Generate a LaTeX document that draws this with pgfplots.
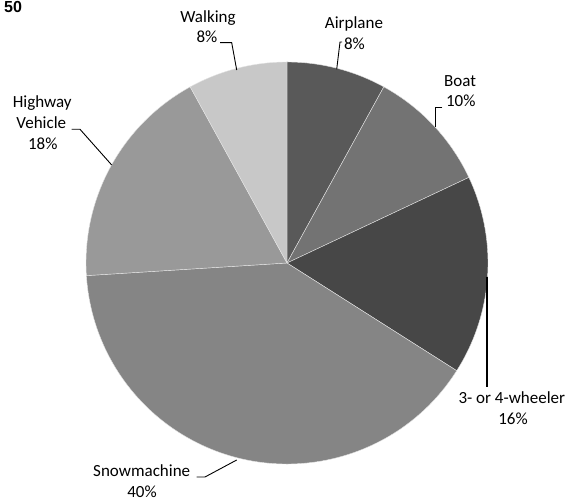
\documentclass[border=0pt]{standalone}
\usepackage{pgfplots}
\pgfplotsset{compat=1.18}
\usepackage{fontspec}
\setmainfont{Carlito}
\newfontfamily\headfont{Liberation Sans}

\definecolor{cAir}{HTML}{595959}
\definecolor{cBoat}{HTML}{737373}
\definecolor{cWheel}{HTML}{474747}
\definecolor{cSnow}{HTML}{858585}
\definecolor{cHwy}{HTML}{999999}
\definecolor{cWalk}{HTML}{C8C8C8}

\begin{document}
\begin{tikzpicture}
\begin{axis}[
    scale only axis,
    width=569pt, height=502pt,
    xmin=0, xmax=569, ymin=0, ymax=502,
    hide axis,
    clip=false,
]
% shares in percent, clockwise from 12 o'clock
\pgfplotsextra{
  \def\s{90}
  \foreach \p/\c in {8/cAir, 10/cBoat, 16/cWheel, 40/cSnow, 18/cHwy, 8/cWalk} {
    \pgfmathsetmacro{\e}{\s-3.6*\p}
    \fill[\c, draw=white!80!gray, line width=0.4pt]
      (axis cs:287,239) -- ++(\s:201pt)
      arc[start angle=\s, end angle=\e, radius=201pt] -- cycle;
    \xdef\s{\e}
  }
}

% labels
\tikzset{lbl/.style={anchor=base, inner sep=0pt, font=\fontsize{17}{20}\selectfont}}
\node[lbl] at (axis cs:208,479.3) {Walking};
\node[lbl] at (axis cs:207,459.3) {8\%};
\node[lbl] at (axis cs:354,473.5) {Airplane};
\node[lbl] at (axis cs:354.5,452.5) {8\%};
\node[lbl] at (axis cs:460,415.3) {Boat};
\node[lbl] at (axis cs:460.7,395.3) {10\%};
\node[lbl] at (axis cs:42.2,394.3) {Highway};
\node[lbl] at (axis cs:41.3,373) {Vehicle};
\node[lbl] at (axis cs:42.8,352.7) {18\%};
\node[lbl] at (axis cs:511.8,98.7) {3- or 4-wheeler};
\node[lbl] at (axis cs:513,77) {16\%};
\node[lbl] at (axis cs:141.7,25) {Snowmachine};
\node[lbl] at (axis cs:142,4.5) {40\%};
\node[anchor=base west, inner sep=0pt, font=\headfont\fontsize{16}{18}\selectfont\bfseries]
  at (axis cs:4,489.7) {50};

% leader lines
\draw[black, line width=0.9pt] (axis cs:220,459.3) -- (axis cs:231.7,459.3) -- (axis cs:236.7,432);
\draw[black, line width=0.9pt] (axis cs:342,460) -- (axis cs:340,460) -- (axis cs:336.7,432.7);
\draw[black, line width=0.9pt] (axis cs:442.3,394.3) -- (axis cs:435,394.3) -- (axis cs:435,375.3);
\draw[black, line width=0.9pt] (axis cs:71.7,372.7) -- (axis cs:80,372.7) -- (axis cs:111.7,337);
\draw[black, line width=1.8pt] (axis cs:487.3,225.3) -- (axis cs:487.3,115.3);
\draw[black, line width=0.9pt] (axis cs:196.7,25) -- (axis cs:205,25) -- (axis cs:236.7,42);
\end{axis}
\pgfresetboundingbox
\path (0,0) rectangle (569pt,502pt);
\end{tikzpicture}
\end{document}
